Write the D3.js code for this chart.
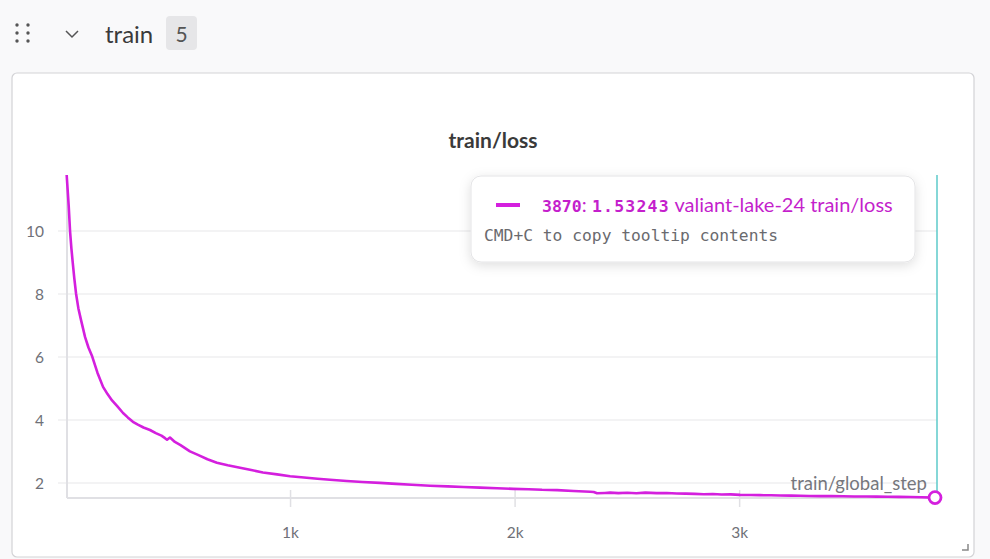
<!DOCTYPE html>
<html>
<head>
<meta charset="utf-8">
<script src="https://cdn.jsdelivr.net/npm/d3@7"></script>
<style>
  html, body { margin: 0; padding: 0; background: #f9f9fa; }
  svg { display: block; }
</style>
</head>
<body>
<script>
// Colors
const colors = {
  page: '#f9f9fa',
  panel: '#ffffff',
  border: '#d3d3d6',
  line: '#d41fde',
  lineText: '#c41fcc',
  grid: '#efeff1',
  axis: '#e0e0e4',
  tick: '#6f7178',
  title: '#3a3a3a',
  cursor: '#5ccaca',
}

// Data
const steps = [3, 12, 18, 24, 30, 37, 45, 55, 67, 76, 85, 100, 115, 140, 165, 185, 205, 230, 254, 275,
  298, 320, 345, 374, 400, 425, 441, 450, 463, 485, 510, 552, 590, 630, 672, 720, 775, 825, 877, 940, 998,
  1060, 1120, 1176, 1250, 1320, 1398, 1470, 1540, 1621, 1700, 1770, 1844, 1920, 1991, 2060, 2120, 2187,
  2260, 2334, 2350, 2365, 2400, 2423, 2460, 2500, 2540, 2580, 2630, 2676, 2720, 2760, 2800, 2840, 2880,
  2920, 2960, 3002, 3050, 3090, 3140, 3180, 3230, 3269, 3310, 3360, 3410, 3460, 3510, 3567, 3610, 3660,
  3710, 3760, 3810, 3870]
const loss = [11.78, 10.8, 10.0, 9.45, 9.0, 8.5, 8.0, 7.55, 7.17, 6.9, 6.63, 6.3, 6.05, 5.5, 5.05, 4.82,
  4.62, 4.42, 4.22, 4.08, 3.94, 3.85, 3.76, 3.68, 3.58, 3.5, 3.42, 3.37, 3.44, 3.3, 3.2, 3.0, 2.88, 2.75,
  2.64, 2.56, 2.48, 2.41, 2.33, 2.27, 2.21, 2.17, 2.13, 2.1, 2.06, 2.03, 2.0, 1.97, 1.94, 1.91, 1.89, 1.87,
  1.85, 1.83, 1.81, 1.8, 1.78, 1.77, 1.74, 1.72, 1.71, 1.67, 1.68, 1.69, 1.675, 1.685, 1.67, 1.69, 1.675,
  1.68, 1.665, 1.66, 1.65, 1.64, 1.645, 1.63, 1.635, 1.62, 1.615, 1.61, 1.605, 1.6, 1.595, 1.59, 1.585,
  1.58, 1.585, 1.575, 1.57, 1.57, 1.565, 1.56, 1.555, 1.55, 1.545, 1.53243]
const yTicks = [2, 4, 6, 8, 10]
const xTicks = [1000, 2000, 3000]
const xTickLabels = ['1k', '2k', '3k']

const width = 990
const height = 559
const plot = { left: 66, right: 935, top: 175, bottom: 498 }
const sans = "'Source Sans Pro', Lato, 'Noto Sans', sans-serif"
const mono = "'DejaVu Sans Mono', 'Liberation Mono', monospace"

const svg = d3.select('body').append('svg')
  .attr('width', width)
  .attr('height', height)

const defs = svg.append('defs')
const shadow = defs.append('filter').attr('id', 'shadow')
  .attr('x', '-10%').attr('y', '-30%').attr('width', '120%').attr('height', '170%')
shadow.append('feDropShadow')
  .attr('dx', 0).attr('dy', 3).attr('stdDeviation', 6)
  .attr('flood-color', '#000').attr('flood-opacity', 0.13)

svg.append('rect').attr('width', width).attr('height', height).attr('fill', colors.page)

// Section header
const header = svg.append('g')
;[17, 28].forEach(cx => {
  [25, 33, 41].forEach(cy => {
    header.append('circle').attr('cx', cx).attr('cy', cy).attr('r', 1.7).attr('fill', '#555')
  })
})
header.append('polyline')
  .attr('points', '66,31 72,37 78,31')
  .attr('fill', 'none').attr('stroke', '#555').attr('stroke-width', 1.5)
header.append('text')
  .attr('x', 105).attr('y', 43)
  .style('font-family', sans).style('font-size', '24px').style('fill', colors.title)
  .text('train')
header.append('rect')
  .attr('x', 166).attr('y', 16).attr('width', 31).attr('height', 34).attr('rx', 4)
  .attr('fill', '#e6e6e8')
header.append('text')
  .attr('x', 181.5).attr('y', 42).attr('text-anchor', 'middle')
  .style('font-family', sans).style('font-size', '21px').style('fill', '#555')
  .text('5')

// Panel
svg.append('rect')
  .attr('x', 12).attr('y', 73).attr('width', 962).attr('height', 484).attr('rx', 5)
  .attr('fill', colors.panel).attr('stroke', colors.border).attr('stroke-width', 1.2)

svg.append('path')
  .attr('d', 'M962,550 H968 V544')
  .attr('fill', 'none').attr('stroke', '#888').attr('stroke-width', 1.5)

svg.append('text')
  .attr('x', 493).attr('y', 148).attr('text-anchor', 'middle')
  .style('font-family', sans).style('font-size', '21px').style('font-weight', 700)
  .style('fill', colors.title)
  .text('train/loss')

// Scales
const x = d3.scaleLinear().domain([0, 3870]).range([plot.left, plot.right])
const y = d3.scaleLinear().domain([1.52, 11.78]).range([plot.bottom, plot.top])

const g = svg.append('g')

// Grid + y labels
yTicks.forEach(t => {
  g.append('line')
    .attr('x1', 58).attr('x2', 937)
    .attr('y1', y(t)).attr('y2', y(t))
    .attr('stroke', colors.grid).attr('stroke-width', 1.5)
  g.append('text')
    .attr('x', 44).attr('y', y(t) + 6).attr('text-anchor', 'end')
    .style('font-family', sans).style('font-size', '15.5px').style('fill', colors.tick)
    .text(t)
})

// Axes
g.append('line')
  .attr('x1', 67).attr('x2', 67).attr('y1', plot.top).attr('y2', plot.bottom)
  .attr('stroke', colors.axis).attr('stroke-width', 2)
g.append('line')
  .attr('x1', 67).attr('x2', 937).attr('y1', plot.bottom).attr('y2', plot.bottom)
  .attr('stroke', colors.axis).attr('stroke-width', 2)

xTicks.forEach((t, i) => {
  g.append('line')
    .attr('x1', x(t)).attr('x2', x(t)).attr('y1', plot.bottom - 8).attr('y2', plot.bottom + 9)
    .attr('stroke', colors.axis).attr('stroke-width', 1.5)
  g.append('text')
    .attr('x', x(t)).attr('y', 538).attr('text-anchor', 'middle')
    .style('font-family', sans).style('font-size', '15.5px').style('fill', colors.tick)
    .text(xTickLabels[i])
})

// Hover cursor
g.append('line')
  .attr('x1', 937).attr('x2', 937).attr('y1', plot.top).attr('y2', y(loss[loss.length - 1]) - 6)
  .attr('stroke', colors.cursor).attr('stroke-width', 1.5)

g.append('text')
  .attr('x', 927).attr('y', 490).attr('text-anchor', 'end')
  .style('font-family', sans).style('font-size', '18.5px').style('fill', '#76777d')
  .text('train/global_step')

// Loss line
const points = steps.map((s, i) => [s, loss[i]])
g.append('path')
  .datum(points)
  .attr('d', d3.line().x(d => x(d[0])).y(d => y(d[1])))
  .attr('fill', 'none').attr('stroke', colors.line).attr('stroke-width', 2.6)
  .attr('stroke-linejoin', 'round')

const last = points[points.length - 1]
g.append('circle')
  .attr('cx', x(last[0])).attr('cy', y(last[1])).attr('r', 6)
  .attr('fill', '#fff').attr('stroke', colors.line).attr('stroke-width', 2.8)

// Tooltip
const tip = svg.append('g')
tip.append('rect')
  .attr('x', 471).attr('y', 176).attr('width', 444).attr('height', 86).attr('rx', 10)
  .attr('fill', '#fff').attr('stroke', '#e4e4e6').attr('filter', 'url(#shadow)')
tip.append('line')
  .attr('x1', 496).attr('x2', 520).attr('y1', 205).attr('y2', 205)
  .attr('stroke', colors.line).attr('stroke-width', 4)

const tipText = tip.append('text')
  .attr('x', 542).attr('y', 212)
  .style('fill', colors.lineText)
tipText.append('tspan')
  .style('font-family', mono).style('font-size', '16.5px').style('font-weight', 700)
  .text(last[0])
tipText.append('tspan')
  .style('font-family', sans).style('font-size', '20px')
  .text(': ')
tipText.append('tspan')
  .style('font-family', mono).style('font-size', '16.5px').style('font-weight', 700)
  .style('letter-spacing', '1.2px')
  .text(last[1].toFixed(5))
tipText.append('tspan')
  .style('font-family', sans).style('font-size', '20px')
  .text(' valiant-lake-24 train/loss')

tip.append('text')
  .attr('x', 484).attr('y', 241)
  .style('font-family', mono).style('font-size', '16.3px').style('fill', '#6a6a6e')
  .text('CMD+C to copy tooltip contents')
</script>
</body>
</html>
